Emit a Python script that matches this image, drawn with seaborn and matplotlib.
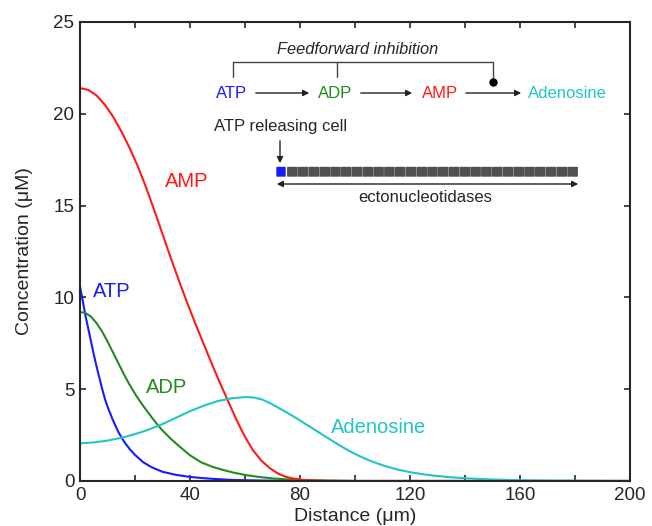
import matplotlib.pyplot as plt
from matplotlib.patches import FancyBboxPatch
import numpy as np
import pandas as pd
import seaborn as sns

# values
atp_x = [0, 1, 2, 3, 4, 5, 6, 7, 8, 9, 10, 12, 14, 16, 18, 20, 23, 26, 30, 35, 40, 45,
         50, 55, 60, 70, 80, 200]
atp_y = [10.6, 9.8, 9.0, 8.3, 7.6, 6.9, 6.25, 5.65, 5.05, 4.5, 4.05, 3.3, 2.65, 2.15, 1.75,
         1.42, 1.02, 0.75, 0.5, 0.33, 0.22, 0.15, 0.1, 0.06, 0.04, 0.015, 0, 0]

adp_x = [0, 2, 4, 6, 8, 10, 12, 14, 16, 18, 20, 22, 24, 26, 28, 30, 33, 36, 40, 44, 48,
         52, 56, 60, 65, 70, 75, 80, 90, 100, 200]
adp_y = [9.2, 9.15, 8.95, 8.6, 8.15, 7.6, 7.0, 6.4, 5.8, 5.25, 4.75, 4.3, 3.88, 3.48, 3.1,
         2.75, 2.3, 1.9, 1.4, 1.02, 0.78, 0.6, 0.45, 0.33, 0.22, 0.14, 0.09, 0.05, 0.02, 0, 0]

amp_x = [0, 3, 6, 9, 12, 15, 18, 21, 24, 27, 30, 33, 36, 39, 42, 45, 48, 51, 54, 57, 60,
         63, 66, 69, 72, 75, 78, 81, 85, 90, 100, 200]
amp_y = [21.4, 21.3, 21.0, 20.5, 19.85, 19.05, 18.15, 17.15, 16.0, 14.75, 13.45, 12.15,
         10.9, 9.7, 8.55, 7.45, 6.35, 5.3, 4.3, 3.3, 2.4, 1.65, 1.1, 0.7, 0.4, 0.22, 0.12,
         0.06, 0.03, 0.01, 0, 0]

ado_x = [0, 5, 10, 15, 20, 25, 30, 35, 40, 45, 50, 55, 60, 63, 66, 69, 72, 75, 78, 81,
         84, 87, 90, 93, 96, 99, 102, 105, 108, 111, 115, 120, 125, 130, 135, 140, 145,
         150, 160, 170, 180, 200]
ado_y = [2.05, 2.1, 2.2, 2.35, 2.55, 2.8, 3.1, 3.45, 3.8, 4.1, 4.35, 4.5, 4.57, 4.55,
         4.45, 4.25, 4.0, 3.75, 3.48, 3.2, 2.92, 2.63, 2.35, 2.07, 1.8, 1.55, 1.33, 1.13,
         0.96, 0.81, 0.64, 0.48, 0.36, 0.27, 0.2, 0.15, 0.11, 0.08, 0.04, 0.02, 0.01, 0]

species = ["ATP", "ADP", "AMP", "Adenosine"]
colors = {"ATP": "#1a1aff", "ADP": "#1f8c1f", "AMP": "#ff1a1a", "Adenosine": "#22c4c4"}

frames = []
for name, xs, ys in [("ATP", atp_x, atp_y), ("ADP", adp_x, adp_y),
                     ("AMP", amp_x, amp_y), ("Adenosine", ado_x, ado_y)]:
    frames.append(pd.DataFrame({"dist": xs, "conc": ys, "species": name}))
df = pd.concat(frames, ignore_index=True)

sns.set_style("ticks")
plt.rcParams['font.family'] = ['Liberation Sans', 'DejaVu Sans']

fig = plt.figure(figsize=(6.52, 5.26), dpi=100)
ax = fig.add_axes([0.1227, 0.0856, 0.8436, 0.8726])

sns.lineplot(data=df, x="dist", y="conc", hue="species", palette=colors,
             hue_order=species, estimator=None, sort=False, linewidth=1.5,
             legend=False, ax=ax)

ax.set_xlim(0, 200)
ax.set_ylim(0, 25)
ax.set_xticks(np.arange(0, 201, 40))
ax.set_xticks(np.arange(20, 200, 40), minor=True)
ax.set_yticks(np.arange(0, 26, 5))
ax.tick_params(direction="in", top=True, right=True, labelsize=13.5, length=4,
               width=1.2, pad=4)
ax.tick_params(which="minor", direction="in", top=True, length=4, width=1.2)
for s in ax.spines.values():
    s.set_linewidth(1.5)
ax.set_xlabel("Distance (μm)", fontsize=14, labelpad=3)
ax.set_ylabel("Concentration (μM)", fontsize=14, labelpad=15)

# curve labels
lab = dict(fontsize=14.5, ha="left", va="center")
ax.text(30.9, 16.3, "AMP", color=colors["AMP"], **lab)
ax.text(4.7, 10.3, "ATP", color=colors["ATP"], **lab)
ax.text(24, 5.07, "ADP", color=colors["ADP"], **lab)
ax.text(91.3, 2.9, "Adenosine", color=colors["Adenosine"], **lab)

# inset scheme drawn in pixel-like coordinates
sch = fig.add_axes([0, 0, 1, 1], facecolor="none")
sch.set_xlim(0, 652)
sch.set_ylim(526, 0)
sch.axis("off")

sch.text(358, 50, "Feedforward inhibition", style="italic", fontsize=11.8,
         ha="center", va="center")
sch.plot([233, 233, 493, 493], [77, 62, 62, 82], color="#444444", lw=1)
sch.plot([337, 337], [62, 77], color="#444444", lw=1)
sch.plot([493], [82], "o", color="black", ms=5)

chain = [(232, "ATP"), (335, "ADP"), (440, "AMP"), (567, "Adenosine")]
for xc, name in chain:
    sch.text(xc, 93, name, color=colors[name], fontsize=12, ha="center", va="center")
for x0, x1 in [(253, 312), (358, 415), (463, 524)]:
    sch.annotate("", xy=(x1, 93), xytext=(x0, 93),
                 arrowprops=dict(arrowstyle="-|>", color="#222222", lw=1,
                                 mutation_scale=9))

sch.text(281, 127, "ATP releasing cell", fontsize=12, ha="center", va="center")
sch.annotate("", xy=(280, 166), xytext=(280, 138),
             arrowprops=dict(arrowstyle="-|>", color="#222222", lw=1, mutation_scale=9))

sch.add_patch(FancyBboxPatch((277, 167.5), 8, 8.5, boxstyle="round,pad=0.7",
                             fc="#1a1aff", ec="none"))
n_cells = 27
w = (578 - 287) / n_cells
for i in range(n_cells):
    sch.add_patch(FancyBboxPatch((287 + i * w + 0.8, 167.5), w - 1.6, 8.5,
                                 boxstyle="round,pad=0.7", fc="#505050", ec="none"))
sch.annotate("", xy=(581, 184), xytext=(274, 184),
             arrowprops=dict(arrowstyle="<|-|>", color="#222222", lw=1, mutation_scale=9))
sch.text(425, 198, "ectonucleotidases", fontsize=12, ha="center", va="center")

fig.savefig("out.png", dpi=100)
